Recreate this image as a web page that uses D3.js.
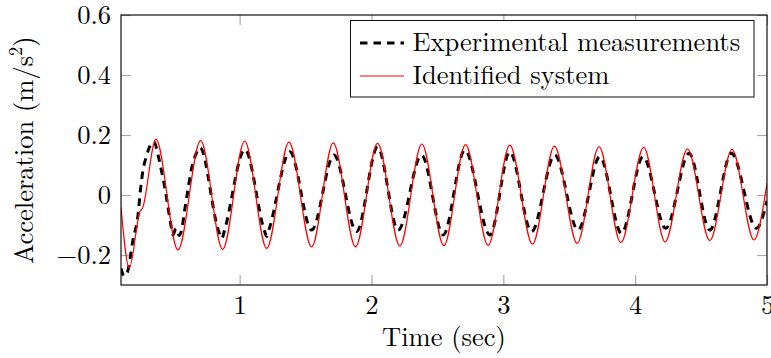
<!DOCTYPE html>
<html>
<head>
<meta charset="utf-8">
<script src="https://cdn.jsdelivr.net/npm/d3@7"></script>
<style>
  html, body { margin: 0; padding: 0; background: #fff; }
  svg { display: block; }
</style>
</head>
<body>
<svg id="chart" width="771" height="358"></svg>
<script>
// Axis tick values
const timeTicks = [1, 2, 3, 4, 5];
const accelTicks = [-0.2, 0, 0.2, 0.4, 0.6];

// Identified system response (time in s, acceleration in m/s^2)
const identifiedTime = [0.100, 0.163, 0.244, 0.262, 0.365, 0.532, 0.704, 0.871, 1.038, 1.205,
  1.374, 1.546, 1.710, 1.879, 2.046, 2.215, 2.382, 2.549, 2.713, 2.885,
  3.049, 3.221, 3.388, 3.560, 3.726, 3.891, 4.065, 4.227, 4.397, 4.566,
  4.735, 4.901, 5.000];
const identifiedAccel = [-0.040, -0.243, -0.055, -0.045, 0.186, -0.183, 0.181, -0.181, 0.180, -0.178,
  0.176, -0.173, 0.174, -0.173, 0.172, -0.170, 0.170, -0.169, 0.168, -0.168,
  0.166, -0.164, 0.163, -0.161, 0.161, -0.159, 0.159, -0.156, 0.154, -0.152,
  0.152, -0.150, 0.040];

// Experimental measurements
const measuredTime = [0.100, 0.123, 0.145, 0.191, 0.229, 0.249, 0.267, 0.292, 0.330, 0.350,
  0.381, 0.406, 0.431, 0.456, 0.481, 0.494, 0.517, 0.540, 0.563, 0.583,
  0.608, 0.633, 0.671, 0.699, 0.840, 0.865, 0.885, 1.040, 1.185, 1.205,
  1.225, 1.381, 1.546, 1.715, 1.887, 2.046, 2.202, 2.380, 2.544, 2.708,
  2.898, 3.049, 3.214, 3.390, 3.567, 3.732, 3.896, 4.060, 4.232, 4.409,
  4.566, 4.730, 4.920, 5.000];
const measuredAccel = [-0.245, -0.270, -0.262, -0.150, -0.067, 0.023, 0.083, 0.128, 0.172, 0.178,
  0.133, 0.083, 0.028, -0.039, -0.106, -0.133, -0.112, -0.135, -0.110, -0.050,
  0.017, 0.083, 0.139, 0.158, -0.120, -0.145, -0.118, 0.152, -0.115, -0.138,
  -0.112, 0.144, -0.117, 0.133, -0.122, 0.160, -0.117, 0.133, -0.133, 0.150,
  -0.133, 0.144, -0.122, 0.133, -0.117, 0.128, -0.128, 0.128, -0.111, 0.139,
  -0.117, 0.139, -0.111, -0.020];

const seriesNames = ["Experimental measurements", "Identified system"];

const fontStack = '"Latin Modern Roman", "Liberation Serif", serif';
const fontSize = "26.5px";
const svg = d3.select("#chart");
const plotLeft = 121, plotRight = 767, plotTop = 15, plotBottom = 285;

const x = d3.scaleLinear().domain([0.1, 5]).range([plotLeft, plotRight]);
const y = d3.scaleLinear().domain([-0.3, 0.6]).range([plotBottom, plotTop]);

const tickColor = "#a9a9a9";
const fmtY = d => d === 0 ? "0" : d3.format(".1f")(d);

function styleAxis(g, withText) {
  g.select(".domain").remove();
  g.selectAll(".tick line").attr("stroke", tickColor).attr("stroke-width", 1.2);
  if (withText) {
    g.selectAll(".tick text").attr("fill", "#000")
      .style("font-family", fontStack).style("font-size", fontSize);
  } else {
    g.selectAll(".tick text").remove();
  }
}

// Ticks on all four sides, pointing inwards
svg.append("g").attr("transform", `translate(0,${plotBottom})`)
  .call(d3.axisBottom(x).tickValues(timeTicks).tickSize(-10).tickPadding(10).tickFormat(d3.format("d")))
  .call(g => styleAxis(g, true));
svg.append("g").attr("transform", `translate(0,${plotTop})`)
  .call(d3.axisTop(x).tickValues(timeTicks).tickSize(-10))
  .call(g => styleAxis(g, false));
svg.append("g").attr("transform", `translate(${plotLeft},0)`)
  .call(d3.axisLeft(y).tickValues(accelTicks).tickSize(-10).tickPadding(10).tickFormat(fmtY))
  .call(g => styleAxis(g, true));
svg.append("g").attr("transform", `translate(${plotRight},0)`)
  .call(d3.axisRight(y).tickValues(accelTicks).tickSize(-10))
  .call(g => styleAxis(g, false));

// Plot area clip
svg.append("clipPath").attr("id", "plot-clip")
  .append("rect").attr("x", plotLeft).attr("y", plotTop)
  .attr("width", plotRight - plotLeft).attr("height", plotBottom - plotTop);

const line = d3.line().x(d => x(d[0])).y(d => y(d[1])).curve(d3.curveMonotoneX);

const measured = measuredTime.map((t, i) => [t, measuredAccel[i]]);
const identified = identifiedTime.map((t, i) => [t, identifiedAccel[i]]);

const plot = svg.append("g").attr("clip-path", "url(#plot-clip)");
plot.append("path").datum(measured)
  .attr("d", line).attr("fill", "none")
  .attr("stroke", "#000").attr("stroke-width", 3)
  .attr("stroke-dasharray", "7.5,6");
plot.append("path").datum(identified)
  .attr("d", line).attr("fill", "none")
  .attr("stroke", "#ff0000").attr("stroke-width", 1.2);

// Frame
svg.append("rect")
  .attr("x", plotLeft).attr("y", plotTop)
  .attr("width", plotRight - plotLeft).attr("height", plotBottom - plotTop)
  .attr("fill", "none").attr("stroke", "#111").attr("stroke-width", 1.2);

// Axis titles
svg.append("text")
  .attr("x", (plotLeft + plotRight) / 2).attr("y", 346)
  .attr("text-anchor", "middle")
  .style("font-family", fontStack).style("font-size", fontSize)
  .text("Time (sec)");

const yTitle = svg.append("text")
  .attr("transform", `translate(33,${(plotTop + plotBottom) / 2}) rotate(-90)`)
  .attr("text-anchor", "middle")
  .style("font-family", fontStack).style("font-size", fontSize);
yTitle.append("tspan").text("Acceleration (m/s");
yTitle.append("tspan").style("font-size", "18.5px").attr("dy", -11).text("2");
yTitle.append("tspan").attr("dy", 11).text(")");

// Legend
const legend = svg.append("g");
legend.append("rect")
  .attr("x", 350.5).attr("y", 20.5).attr("width", 403.5).attr("height", 76.5)
  .attr("fill", "#fff").attr("stroke", "#111").attr("stroke-width", 1);
const legendRows = [
  { name: seriesNames[0], color: "#000", width: 3, dash: "7.5,6", y: 43 },
  { name: seriesNames[1], color: "#ff0000", width: 1.2, dash: null, y: 76 }
];
legendRows.forEach(r => {
  legend.append("line")
    .attr("x1", 360).attr("x2", 404).attr("y1", r.y).attr("y2", r.y)
    .attr("stroke", r.color).attr("stroke-width", r.width)
    .attr("stroke-dasharray", r.dash);
  legend.append("text")
    .attr("x", 412.5).attr("y", r.y + 8)
    .style("font-family", fontStack).style("font-size", fontSize)
    .text(r.name);
});
</script>
</body>
</html>
